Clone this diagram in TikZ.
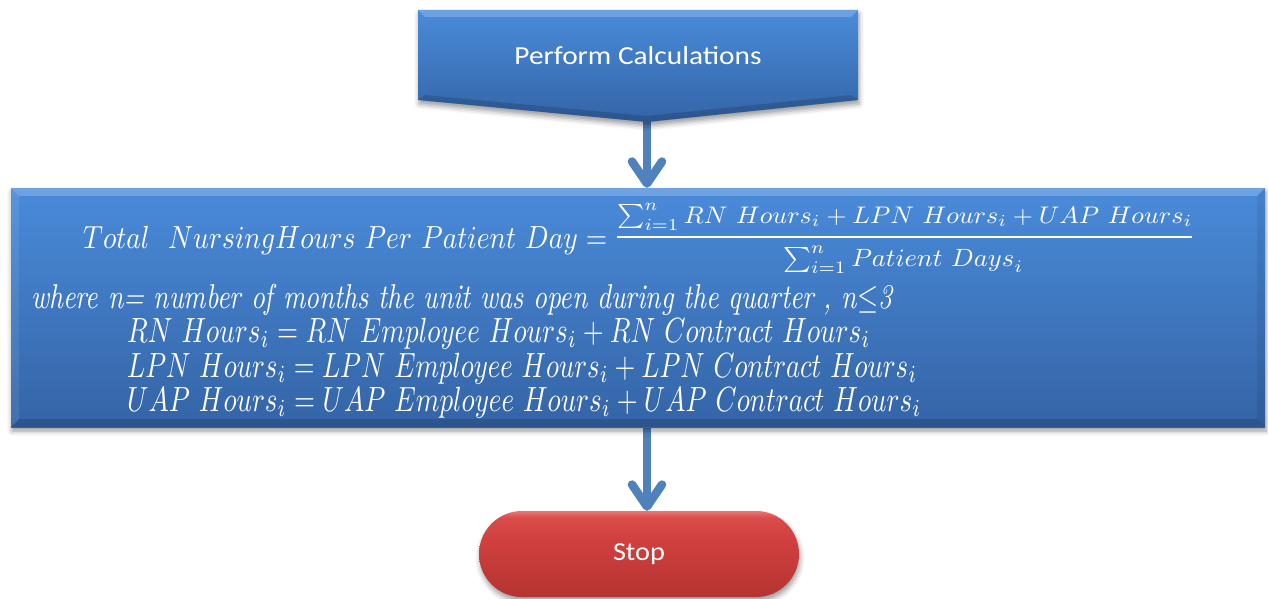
\documentclass[tikz,border=0pt]{standalone}
\usepackage[no-math]{fontspec}
\usepackage{amsmath}
\usepackage{graphicx}
\usetikzlibrary{arrows.meta,shadows.blur}
\newfontfamily\calfont{Carlito}

\definecolor{arrowblue}{HTML}{4F81BD}
\definecolor{blueTop}{HTML}{4A8BDA}
\definecolor{blueMid}{HTML}{3F7BCB}
\definecolor{blueBot}{HTML}{3464A6}
\definecolor{stopA}{HTML}{B53331}
\definecolor{stopB}{HTML}{D1413F}
\definecolor{stopC}{HTML}{D94C4A}
\definecolor{stopD}{HTML}{EA7370}

\pgfdeclareverticalshading{stopshade}{100bp}{color(0bp)=(stopA); color(25bp)=(stopA); color(60bp)=(stopB); color(71bp)=(stopC); color(75bp)=(stopD); color(100bp)=(stopD)}

\pgfdeclarelayer{bg}
\pgfsetlayers{bg,main}

\tikzset{
  flowarrow/.style={draw=arrowblue, line width=8.5pt, line cap=round,
    -{Straight Barb[round,length=22pt,width=30pt]}},
  boxshadow/.style={blur shadow={shadow xshift=1pt, shadow yshift=-4pt,
    shadow blur radius=5pt, shadow opacity=40}},
  bluefill/.style={top color=blueTop, middle color=blueMid, bottom color=blueBot},
  bigbox/.style={rectangle, bluefill, boxshadow, inner sep=0pt},
  stopbox/.style={rectangle, rounded corners=43pt, shading=stopshade, boxshadow,
    minimum width=320pt, minimum height=86pt, inner sep=0pt, text=white},
  wtext/.style={text=white, inner sep=0pt, anchor=base west},
  ctext/.style={text=white, inner sep=0pt},
  lighten/.style={fill=white, fill opacity=.2},
  darken/.style={fill=black, fill opacity=.15},
}

% set text at 10pt, stretch to a given width (pt) and a height factor
\newcommand{\fitw}[3]{\resizebox{#1pt}{#2\height}{\fontsize{10}{12}\selectfont #3}}

\begin{document}
\begin{tikzpicture}[x=1pt,y=-1pt]
\useasboundingbox (0,0) rectangle (1268,599);

% --- "Perform Calculations" off-page connector shape
\path[bluefill, boxshadow] (418,10) -- (858,10) -- (858,100) -- (647,122) -- (418,100) -- cycle;
\path[lighten] (418,10) -- (858,10) -- (851,17) -- (425,17) -- cycle;
\path[darken] (418,100) -- (647,122) -- (858,100) -- (851,95) -- (647,116) -- (425,95) -- cycle;
\coordinate (pctip) at (647,122);
\node[ctext] (pclabel) at (638,56) {\fitw{247}{2.6}{\calfont Perform Calculations}};

% --- calculation box
\node[bigbox, minimum width=1254pt, minimum height=239pt] (calc) at (638,307.5) {};
\path[lighten] (calc.north west) -- (calc.north east) -- ([shift={(-8,8)}]calc.north east) -- ([shift={(8,8)}]calc.north west) -- cycle;
\path[fill=white, fill opacity=.08] (calc.north west) -- ([shift={(8,8)}]calc.north west) -- ([shift={(8,-8)}]calc.south west) -- (calc.south west) -- cycle;
\path[darken] (calc.south west) -- (calc.south east) -- ([shift={(-8,-8)}]calc.south east) -- ([shift={(8,-8)}]calc.south west) -- cycle;
\path[fill=black, fill opacity=.08] (calc.north east) -- ([shift={(-8,8)}]calc.north east) -- ([shift={(-8,-8)}]calc.south east) -- (calc.south east) -- cycle;

% formula
\node[wtext] (eqleft) at (83,248) {\fitw{524}{3.2}{$Total\ \ NursingHours\ Per\ Patient\ Day =$}};
\node[wtext] (eqnum) at (617,223) {\fitw{575}{2.4}{$\sum_{i=1}^{n} RN\ Hours_i + LPN\ Hours_i + UAP\ Hours_i$}};
\node[wtext] (eqden) at (783,266) {\fitw{240}{2.5}{$\sum_{i=1}^{n} Patient\ {Days}_i$}};
\draw[white, line width=2pt] (eqnum.west |- 0,237) -- (eqnum.east |- 0,237);

\node[wtext] (where) at (31,308) {\fitw{861}{3.45}{\itshape where n= number of months the unit was open during the quarter , n$\leq$3}};
\node[wtext] (rn) at (127,342) {\fitw{743}{3.5}{$RN\ Hours_i = RN\ Employee\ Hours_i + RN\ Contract\ Hours_i$}};
\node[wtext] (lpn) at (127,377) {\fitw{790}{3.5}{$LPN\ Hours_i = LPN\ Employee\ Hours_i + LPN\ Contract\ Hours_i$}};
\node[wtext] (uap) at (127,411) {\fitw{794}{3.5}{$UAP\ Hours_i = UAP\ Employee\ Hours_i + UAP\ Contract\ Hours_i$}};

% --- terminal
\node[stopbox] (stop) at (639,554) {\fitw{52}{2.6}{\calfont Stop}};

% --- connectors
\begin{pgfonlayer}{bg}
\draw[flowarrow] (pctip) -- (calc.north -| pctip);
\draw[flowarrow] (calc.south -| pctip) -- (stop.north -| pctip);
\end{pgfonlayer}
\end{tikzpicture}
\end{document}
